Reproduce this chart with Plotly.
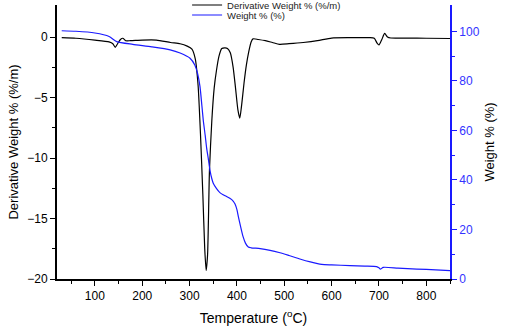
import plotly.graph_objects as go

# Derivative weight curve (black)
deriv_T = [30, 60, 100, 130, 138, 143, 148, 154, 159, 165, 175, 200, 230, 260, 280, 295, 305, 312,
           318, 323, 328, 332, 335, 338, 342, 347, 352, 357, 362, 368, 375, 380, 386, 392, 397, 402,
           406, 410, 415, 420, 425, 430, 434, 445, 460, 475, 490, 510, 540, 570, 600, 640, 680, 690,
           696, 700, 706, 712, 718, 725, 760, 800, 850]
deriv_val = [-0.05, -0.1, -0.25, -0.4, -0.55, -0.85, -0.55, -0.2, -0.1, -0.3, -0.3, -0.25, -0.25,
             -0.45, -0.55, -0.75, -1.0, -1.8, -4.0, -8.0, -13.0, -17.5, -19.3, -18.0, -11.0, -6.9,
             -4.2, -2.7, -1.6, -0.95, -0.9, -0.95, -1.3, -2.5, -4.2, -6.0, -6.7, -5.6, -3.8, -2.3,
             -1.2, -0.4, -0.15, -0.2, -0.3, -0.45, -0.6, -0.55, -0.45, -0.3, -0.08, -0.05, -0.05,
             -0.1, -0.5, -0.65, -0.2, 0.3, 0.0, -0.08, -0.08, -0.1, -0.12]

# Weight curve (blue)
weight_T = [30, 60, 100, 130, 146, 180, 220, 259, 280, 301, 311, 317, 322, 326, 329, 333, 336, 340,
            343, 347, 350, 357, 364, 375, 385, 392, 396, 400, 403, 408, 413, 418, 424, 430, 449, 470,
            491, 510, 533, 555, 568, 579, 600, 639, 670, 695, 700, 703, 709, 740, 780, 820, 850]
weight_val = [100.3, 100.1, 99.4, 98.0, 95.9, 94.8, 93.8, 92.6, 91.3, 89.2, 86.5, 83.0, 77.7, 70.0,
              64.0, 58.0, 53.0, 48.0, 44.0, 40.5, 38.7, 36.5, 34.9, 33.6, 32.6, 31.5, 30.3, 28.0,
              25.2, 21.0, 17.1, 14.5, 12.9, 12.6, 12.3, 11.6, 10.6, 9.5, 8.1, 6.9, 6.3, 5.9, 5.7,
              5.4, 5.2, 5.0, 4.5, 4.0, 4.7, 4.4, 4.0, 3.7, 3.4]

FONT = "Arial, Liberation Sans, sans-serif"
BLUE = "#1a1aff"

fig = go.Figure()
fig.add_trace(go.Scatter(x=deriv_T, y=deriv_val, mode="lines", name="Derivative Weight % (%/m)",
                         legend="legend",
                         line=dict(color="black", width=1.2, shape="spline", smoothing=0.6)))
fig.add_trace(go.Scatter(x=weight_T, y=weight_val, mode="lines", name="Weight % (%)", yaxis="y2",
                         legend="legend2",
                         line=dict(color=BLUE, width=1.2, shape="spline", smoothing=0.6)))

leg_common = dict(x=0.331, xanchor="left", yanchor="middle", bgcolor="rgba(0,0,0,0)",
                  font=dict(size=9.5, family=FONT, color="#222222"), itemwidth=30)

fig.update_layout(
    width=505, height=327,
    margin=dict(l=57, r=55, t=5, b=48, autoexpand=False),
    paper_bgcolor="white", plot_bgcolor="white",
    font=dict(family=FONT, size=12, color="black"),
    showlegend=True,
    legend=dict(y=1.0, **leg_common),
    legend2=dict(y=0.9635, **leg_common),
    xaxis=dict(range=[20, 850], tickvals=[100, 200, 300, 400, 500, 600, 700, 800],
               automargin=False,
               ticks="outside", ticklen=5, tickwidth=1.2, tickcolor="black",
               showline=True, linecolor="black", linewidth=1.5, showgrid=False, zeroline=False,
               minor=dict(tickvals=[50, 150, 250, 350, 450, 550, 650, 750, 850], ticks="outside",
                          ticklen=3, tickcolor="black", tickwidth=1.2),
               title=dict(text="Temperature (<sup>o</sup>C)", font=dict(size=14), standoff=11)),
    yaxis=dict(range=[-20, 2.65], tickvals=[-20, -15, -10, -5, 0], automargin=False,
               ticks="outside", ticklen=5, tickwidth=1.2, tickcolor="black",
               showline=True, linecolor="black", linewidth=1.8, showgrid=False, zeroline=False,
               minor=dict(tickvals=[-17.5, -12.5, -7.5, -2.5], ticks="outside",
                          ticklen=3, tickcolor="black", tickwidth=1.2),
               title=dict(text="Derivative Weight % (%/m)", font=dict(size=13), standoff=6)),
    yaxis2=dict(range=[0, 110.7], overlaying="y", side="right", tickvals=[0, 20, 40, 60, 80, 100],
                automargin=False,
                ticks="outside", ticklen=5, tickwidth=1.2, tickcolor=BLUE,
                showline=True, linecolor=BLUE, linewidth=1.8, showgrid=False, zeroline=False,
                tickfont=dict(color="#3333ff"),
                minor=dict(tickvals=[10, 30, 50, 70, 90], ticks="outside",
                           ticklen=3, tickcolor=BLUE, tickwidth=1.2),
                title=dict(text="Weight % (%)", font=dict(size=13, color="black"), standoff=6)),
)

fig.write_html("out.html", config={"displayModeBar": False},
               post_script="document.body.style.margin='0';")
